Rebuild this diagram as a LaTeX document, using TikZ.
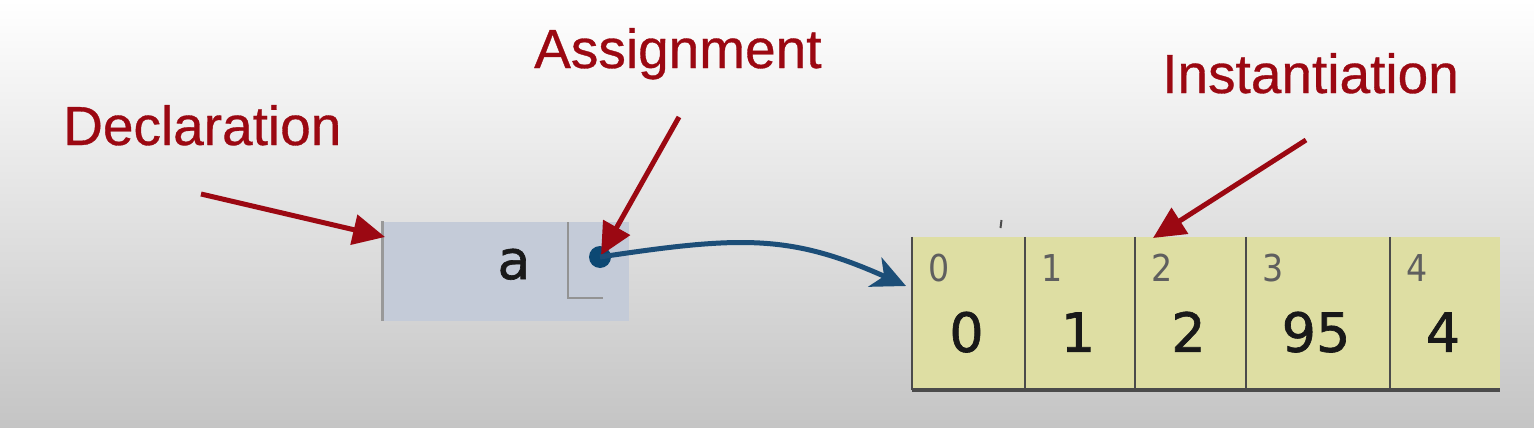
\documentclass[tikz,border=0pt]{standalone}
\usepackage{fontspec}
\setmainfont{Liberation Sans}
\newfontfamily\dejavu{DejaVu Sans}
\newfontfamily\dejavubold[FakeBold=1.2]{DejaVu Sans}
\newfontfamily\lblfont[FakeBold=0.6]{Liberation Sans}
\usetikzlibrary{arrows.meta,calc}
\definecolor{lblred}{RGB}{155,8,18}
\definecolor{varfill}{RGB}{196,203,216}
\definecolor{arrfill}{RGB}{222,222,163}
\definecolor{cellline}{RGB}{75,75,75}
\definecolor{idxgray}{RGB}{95,95,95}
\definecolor{dotblue}{RGB}{12,72,115}
\definecolor{curveblue}{RGB}{28,78,120}
\tikzset{
  lbl/.style={font=\lblfont\fontsize{55}{60}\selectfont, text=lblred, inner sep=0pt, anchor=base west},
  redarr/.style={draw=lblred, line width=5pt, -{Triangle[length=32pt,width=30pt]}},
  varbox/.style={fill=varfill, draw=none, minimum width=246pt, minimum height=99pt, inner sep=0pt},
  cellbox/.style={fill=arrfill, draw=none, minimum height=153pt, inner sep=0pt},
  divline/.style={draw=cellline, line width=2.5pt},
  baseline/.style={draw=cellline, line width=4pt},
  idx/.style={font=\dejavu\fontsize{37}{40}\selectfont, text=idxgray, inner sep=0pt, anchor=base west, xscale=0.9},
  val/.style={font=\dejavubold\fontsize{54}{60}\selectfont, text=black!90, inner sep=0pt, anchor=base},
  refline/.style={draw=gray!85, line width=2pt},
  curvearr/.style={draw=curveblue, line width=5pt, -{Stealth[length=34pt,width=32pt,inset=10pt]}}
}
\begin{document}
\begin{tikzpicture}[x=1pt,y=-1pt]
\useasboundingbox (0,0) rectangle (1534,428);
\shade[top color=white, bottom color=black!23] (0,0) rectangle (1534,428);

% labels
\node[lbl] (decl) at (63,145) {Declaration};
\node[lbl] (assign) at (534,68) {Assignment};
\node[lbl] (inst) at (1162,93) {Instantiation};

% variable box
\node[varbox] (var) at (506,271) {};
\draw[draw=gray!80, line width=3pt] (var.north west) -- (var.south west);
\coordinate (inA) at (568,222);
\coordinate (inB) at (568,298);
\coordinate (inC) at (603,298);
\draw[refline] (inA) -- (inB) -- (inC);
\node[font=\dejavubold\fontsize{54}{60}\selectfont, text=black!90, inner sep=0pt, anchor=base] (aname) at (514,279) {a};
\node[circle, fill=dotblue, minimum size=22pt, inner sep=0pt] (dot) at (600,257) {};

% array cells
\node[cellbox, minimum width=113pt] (cell0) at (968.5,313.5) {};
\node[cellbox, minimum width=110pt] (cell1) at (1080,313.5) {};
\node[cellbox, minimum width=111pt] (cell2) at (1190.5,313.5) {};
\node[cellbox, minimum width=144pt] (cell3) at (1318,313.5) {};
\node[cellbox, minimum width=110pt] (cell4) at (1445,313.5) {};
\foreach \i in {0,...,4} {
  \draw[divline] (cell\i.north west) -- (cell\i.south west);
}
\draw[baseline] (cell0.south west) -- (cell4.south east);
\foreach \i/\n/\v in {0/0/0, 1/1/1, 2/2/2, 3/3/95, 4/4/4} {
  \node[idx] (idx\i) at ($(cell\i.north west)+(17,45)$) {\n};
  \node[val] (val\i) at ($(cell\i.north)+(-2,115)$) {\v};
}
% small tick above array
\coordinate (tickA) at (1001.5,220);
\coordinate (tickB) at (1000.5,228);
\draw[draw=black!70, line width=2pt] (tickA) -- (tickB);

% red arrows
\coordinate (dtail) at (201,194);
\coordinate (dtip) at (385,237);
\draw[redarr] (dtail) -- (dtip);
\coordinate (atail) at (679,117);
\draw[redarr, shorten >=2pt] (atail) -- (dot.center);
\coordinate (itail) at (1306,140);
\coordinate (itip) at (1153,238);
\draw[redarr] (itail) -- (itip);

% reference curve
\coordinate (ctip) at (906,286);
\draw[curvearr] (dot.center) .. controls (740,236) and (790,234) .. (ctip);
\end{tikzpicture}
\end{document}
